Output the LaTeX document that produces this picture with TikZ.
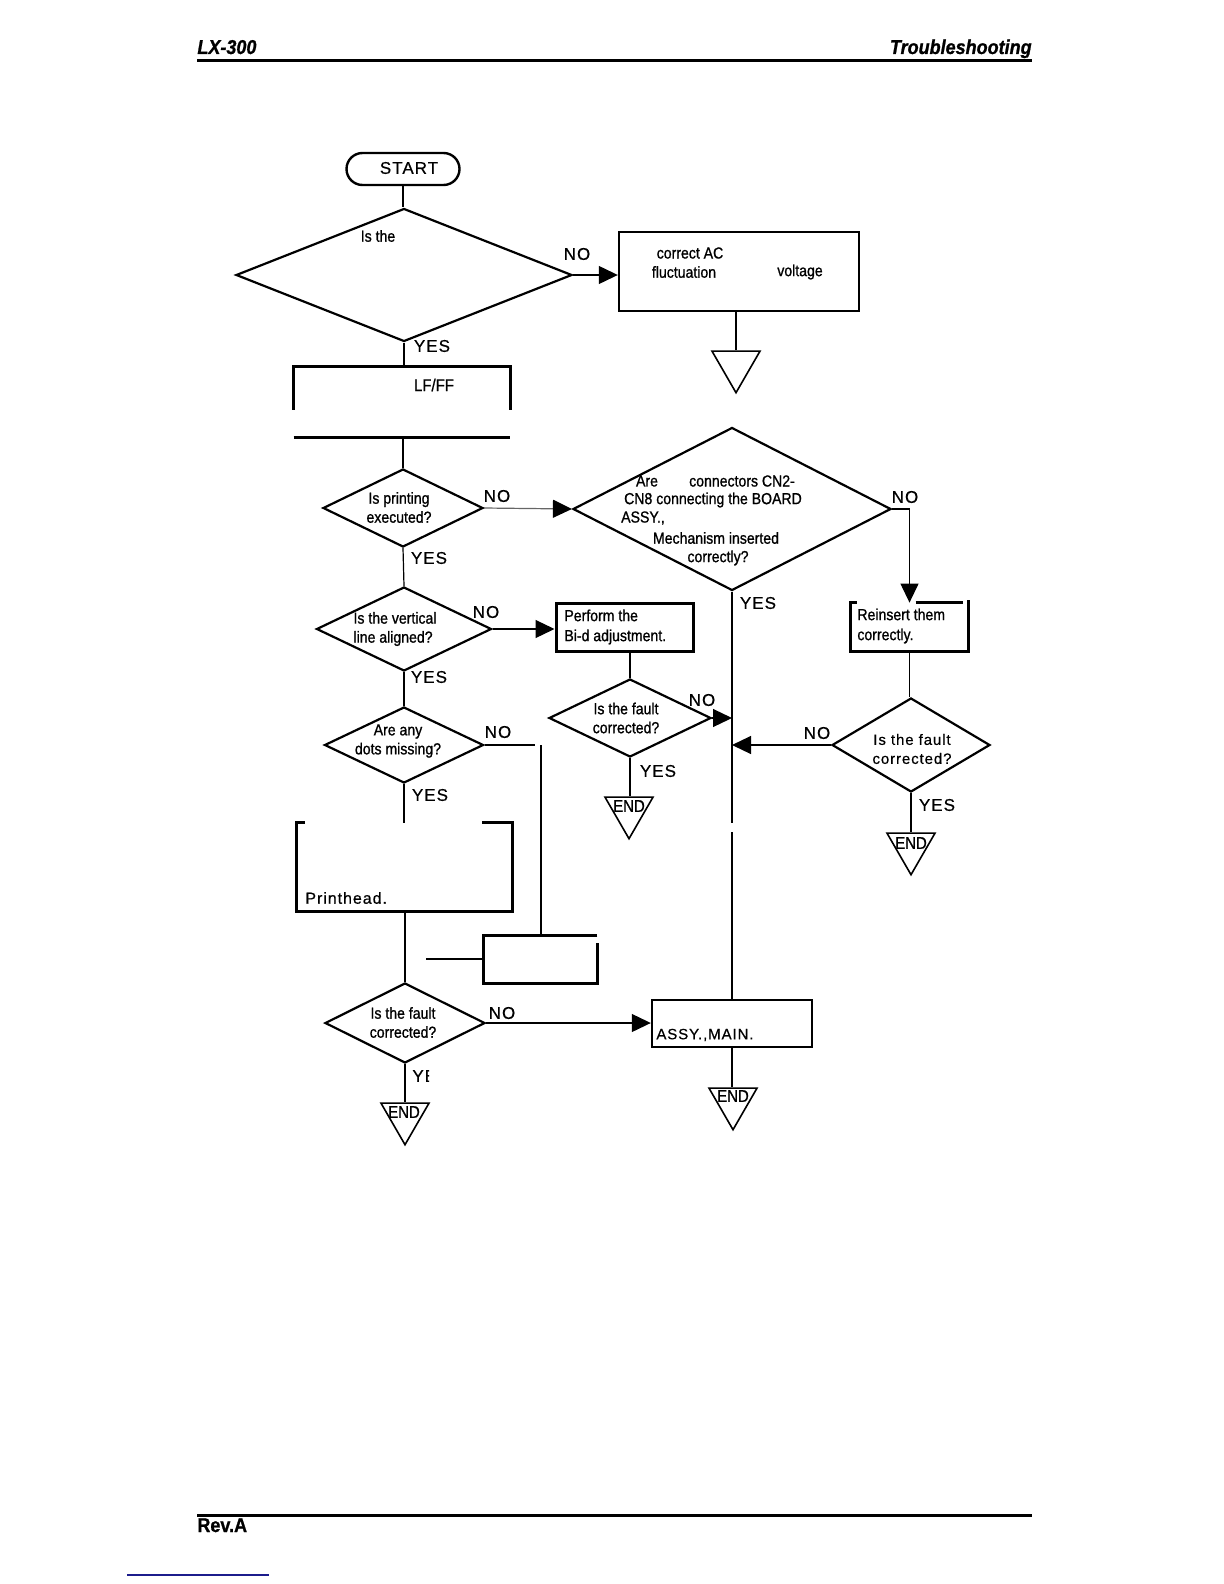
\documentclass[tikz,border=0pt]{standalone}
\usepackage{fontspec}
\setmainfont{Liberation Sans}
\newfontfamily\condfont{Liberation Sans}[FakeStretch=0.88,FakeBold=1]
\newfontfamily\spacefont{Liberation Sans}[LetterSpace=6,FakeBold=0.5]
\newfontfamily\headfont{Liberation Sans}[FakeStretch=0.9,FakeBold=1]
\usetikzlibrary{arrows.meta,calc,shapes.geometric}
\definecolor{linkblue}{HTML}{1C1C8C}

\tikzset{
  flow/.style={line width=0.6pt},
  arr/.style={flow,-{Triangle[length=9.5pt,width=9pt,color=black]}},
  decision/.style={diamond,draw,line width=1.1pt,inner sep=0pt},
  proc/.style={rectangle,draw,line width=1.2pt,inner sep=0pt},
  procarea/.style={rectangle,inner sep=0pt},
  edge/.style={line width=1.2pt},
  stop/.style={regular polygon,regular polygon sides=3,shape border rotate=180,draw,line width=0.8pt,inner sep=0pt,minimum size=27.7pt},
  qtext/.style={font=\condfont\fontsize{8}{9.5}\selectfont,align=center,inner sep=0pt},
  btext/.style={font=\condfont\fontsize{8}{10}\selectfont,align=left,anchor=west,inner sep=0pt},
  ftext/.style={font=\spacefont\fontsize{7.5}{9.5}\selectfont,align=center,inner sep=0pt},
  yn/.style={font=\spacefont\fontsize{8.5}{10}\selectfont,inner sep=0pt},
  endtext/.style={font=\condfont\fontsize{8.5}{9}\selectfont,inner sep=0pt},
  headtext/.style={font=\headfont\bfseries\itshape\fontsize{10}{12}\selectfont,inner sep=0pt},
}

\begin{document}
\begin{tikzpicture}[x=0.5pt,y=-0.5pt]
\useasboundingbox (0,0) rectangle (1224,1584);
% page head and foot
\node[headtext,anchor=base west] (hleft) at (197,54) {LX-300};
\node[headtext,anchor=base east] (hright) at (1032,54) {Troubleshooting};
\draw[line width=1.5pt] (197,61) -- (1032,61);
\draw[line width=1.5pt] (197,1515) -- (1032,1515);
\node[font=\headfont\bfseries\fontsize{10}{12}\selectfont,inner sep=0pt,anchor=base west] (rev) at (197,1532) {Rev.A};
\draw[linkblue,line width=1pt] (127,1575) -- (269,1575);

% top: start and the first question
\node[proc,rounded corners=8pt,minimum width=56.5pt,minimum height=16pt] (start) at (403,169) {};
\node[yn] (starttxt) at (409,168) {START};
\node[decision,minimum width=168pt,minimum height=66.5pt] (d1) at (404,275) {};
\node[qtext] (d1txt) at (378,236) {Is the};
\node[proc,minimum width=120pt,minimum height=39.5pt] (b1) at (739,271.5) {};
\node[qtext] (b1a) at (690,253) {correct AC};
\node[qtext] (b1b) at (684,272) {fluctuation};
\node[qtext] (b1c) at (800,272) {voltage};
\node[stop] (t1) at (736,365) {};
\draw[flow] (start.south) -- (start.south |- d1.north);
\draw[arr] (d1.east) -- (d1.east -| b1.west);
\node[yn] (d1no) at (577,254) {NO};
\draw[flow] (t1.north |- b1.south) -- (t1.north);
\node[yn] (d1yes) at (432,346) {YES};

% LF/FF box, its lower edges lost
\node[procarea,minimum width=108pt,minimum height=35pt] (b2) at (402,402) {};
\node[qtext,font=\condfont\fontsize{8.5}{10}\selectfont] (b2txt) at (434,385) {LF/FF};
\draw[edge] ($(b2.north west)+(0,43)$) -- (b2.north west) -- (b2.north east) -- ++(0,43);
\draw[edge] (b2.south west) -- (b2.south east);
\draw[flow] (d1.south) -- (d1.south |- b2.north);

% printing
\node[decision,minimum width=80pt,minimum height=39pt] (d2) at (403,508) {};
\node[qtext] (d2txt) at (399,507.5) {Is printing\\executed?};
\draw[flow] (b2.south -| d2.north) -- (d2.north);
\node[yn] (d2no) at (497,496) {NO};
\node[yn] (d2yes) at (429,558) {YES};

% connectors
\node[decision,minimum width=159pt,minimum height=81.5pt] (d3) at (732,509) {};
\node[qtext] (d3a) at (647,481) {Are};
\node[qtext] (d3b) at (742,481) {connectors CN2-};
\node[qtext] (d3c) at (713,500) {CN8 connecting the BOARD};
\node[qtext] (d3d) at (643,518) {ASSY.,};
\node[qtext] (d3e) at (716,538) {Mechanism inserted};
\node[qtext] (d3f) at (718,558) {correctly?};
\draw[arr,black!60] (d2.east) -- (d3.west);
\node[yn] (d3no) at (905,497) {NO};
\node[yn] (d3yes) at (758,603) {YES};

% reinsert
\node[procarea,minimum width=58.5pt,minimum height=24pt] (b5) at (909.5,627) {};
\node[btext] (b5txt) at (857,626) {Reinsert them\\correctly.};
\draw[edge] ($(b5.north west)+(6,0)$) -- (b5.north west) -- (b5.south west) -- (b5.south east) -- ($(b5.north east)+(0,-3)$);
\draw[edge] ($(b5.north west)+(65,0)$) -- ($(b5.north east)+(-5,0)$);
\draw[arr] (d3.east) -- (d3.east -| b5.north) -- (b5.north);

% vertical line
\node[decision,minimum width=87.5pt,minimum height=42pt] (d4) at (404,629) {};
\node[qtext,align=left] (d4txt) at (395,629) {Is the vertical\\line aligned?};
\draw[flow] (d2.south) -- (d4.north);
\node[yn] (d4no) at (486,612) {NO};
\node[yn] (d4yes) at (429,677) {YES};
\node[proc,line width=1.5pt,minimum width=68.5pt,minimum height=24pt] (b3) at (624.5,627) {};
\node[btext] (b3txt) at (564,627) {Perform the\\Bi-d adjustment.};
\draw[arr] (d4.east) -- (d4.east -| b3.west);

% fault after Bi-d
\node[decision,minimum width=81pt,minimum height=39pt] (d7) at (630,718) {};
\node[qtext] (d7txt) at (626,718) {Is the fault\\corrected?};
\draw[flow] (d7.north |- b3.south) -- (d7.north);
\node[yn] (d7no) at (702,700) {NO};
\draw[arr] (d7.east) -- (d7.east -| d3.south);
\node[yn] (d7yes) at (658,771) {YES};
\node[stop] (e2) at (629,811) {};
\node[endtext] (e2txt) at (629,806) {END};
\draw[flow] (d7.south) -- (d7.south |- e2.north);

% fault after reinsert
\node[decision,minimum width=79pt,minimum height=47pt] (d5) at (911,745) {};
\node[ftext] (d5txt) at (912,749) {Is the fault\\corrected?};
\draw[flow] (b5.south) -- (b5.south |- d5.north);
\node[yn] (d5no) at (817,733) {NO};
\draw[arr] (d5.west) -- (d5.west -| d3.south);
\node[yn] (d5yes) at (937,805) {YES};
\node[stop] (e4) at (911,847) {};
\node[endtext] (e4txt) at (911,843) {END};
\draw[flow] (d5.south) -- (e4.north);

% dots
\node[decision,minimum width=79.5pt,minimum height=38pt] (d6) at (404,745) {};
\node[qtext] (d6txt) at (398,741) {Are any\\dots missing?};
\draw[flow] (d4.south) -- (d6.north);
\node[yn] (d6no) at (498,732) {NO};
\node[yn] (d6yes) at (430,795) {YES};
\coordinate (d6end) at (535,745);
\coordinate (d6drop) at (541,745);
\draw[flow] (d6.east) -- (d6end);

% printhead box, top edge broken
\node[procarea,minimum width=107.5pt,minimum height=44pt] (b4) at (404.5,867) {};
\node[ftext,anchor=west,font=\spacefont\fontsize{8}{10}\selectfont] (b4txt) at (305,898) {Printhead.};
\draw[edge] ($(b4.north west)+(8,0)$) -- (b4.north west) -- (b4.south west) -- (b4.south east) -- (b4.north east) -- ++(-30,0);
\draw[flow] (d6.south) -- (d6.south |- b4.north);

% empty box
\node[procarea,minimum width=56.5pt,minimum height=23.5pt] (b6) at (540.5,959.5) {};
\draw[edge] (b6.north east) -- (b6.north west) -- (b6.south west) -- (b6.south east) -- ++(0,-40);
\draw[line width=0.9pt] (d6drop) -- (d6drop |- b6.north);
\coordinate (b6stub) at (426,959);
\draw[flow] (b6stub) -- (b6stub -| b6.west);

% fault after printhead
\node[decision,minimum width=80pt,minimum height=40pt] (d8) at (405,1023) {};
\node[qtext] (d8txt) at (403,1022.5) {Is the fault\\corrected?};
\draw[flow] (b4.south -| d8.north) -- (d8.north);
\node[yn] (d8no) at (502,1013) {NO};
\begin{scope}
 \clip (405,1060) rectangle (429,1095);
 \node[yn,anchor=west] (d8yes) at (412,1076) {YES};
\end{scope}
\node[stop] (e3) at (405,1117) {};
\node[endtext] (e3txt) at (404,1112) {END};
\draw[flow] (d8.south) -- (d8.south |- e3.north);

% main board
\node[proc,minimum width=80pt,minimum height=23.5pt] (b8) at (732,1023.5) {};
\node[ftext,anchor=west] (b8txt) at (656,1035) {ASSY.,MAIN.};
\draw[arr] (d8.east) -- (d8.east -| b8.west);
\coordinate (gapa) at (733,823);
\coordinate (gapb) at (733,832);
\draw[flow] (d3.south) -- (d3.south |- gapa);
\draw[flow] (d3.south |- gapb) -- (d3.south |- b8.north);
\node[stop] (e5) at (733,1102) {};
\node[endtext] (e5txt) at (733,1096) {END};
\draw[flow] (b8.south) -- (b8.south |- e5.north);
\end{tikzpicture}
\end{document}
